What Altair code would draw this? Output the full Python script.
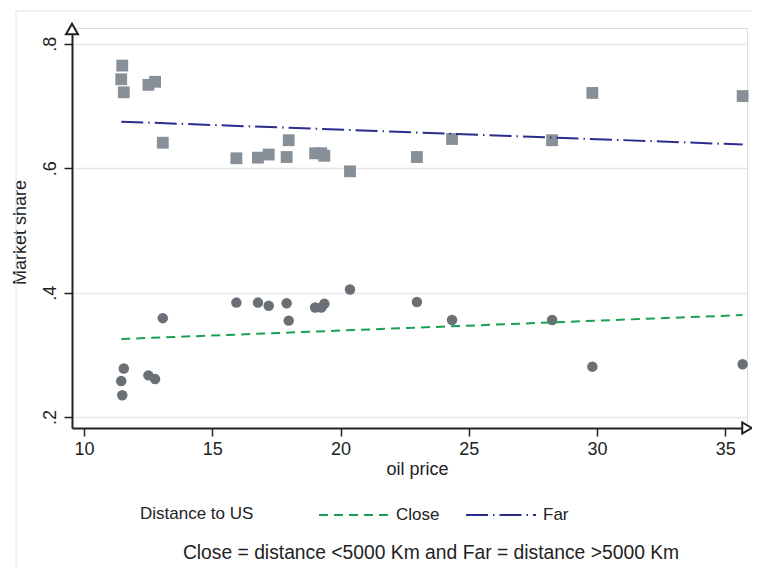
import altair as alt
import pandas as pd

# ---- data ----
oil_price = [11.49, 11.45, 11.55, 12.51, 12.77, 13.07, 15.94, 16.78, 17.20, 17.90,
             17.98, 19.01, 19.25, 19.37, 20.37, 22.98, 24.35, 28.25, 29.82, 35.68]
share_far = [0.765, 0.743, 0.722, 0.734, 0.739, 0.641, 0.616, 0.617, 0.622, 0.618,
             0.645, 0.624, 0.624, 0.620, 0.595, 0.618, 0.647, 0.645, 0.721, 0.716]
share_close = [0.235, 0.258, 0.278, 0.267, 0.261, 0.359, 0.384, 0.384, 0.379, 0.383,
               0.355, 0.376, 0.376, 0.382, 0.405, 0.385, 0.356, 0.356, 0.281, 0.285]
groups = ["Close", "Far"]
x_ticks = [10, 15, 20, 25, 30, 35]
y_ticks = [0.2, 0.4, 0.6, 0.8]
legend_title = "Distance to US"
caption_text = "Close = distance <5000 Km and Far = distance >5000 Km"

FONT = "Liberation Sans"
INK = "#222222"

close_df = pd.DataFrame({"price": oil_price, "share": share_close, "group": "Close"})
far_df = pd.DataFrame({"price": oil_price, "share": share_far, "group": "Far"})
all_df = pd.concat([close_df, far_df], ignore_index=True)
one = pd.DataFrame({"k": [0]})

xscale = alt.Scale(domain=[9.53, 35.85], nice=False, zero=False)
yscale = alt.Scale(domain=[0.1824, 0.8254], nice=False, zero=False)

x_enc = alt.X("price:Q", scale=xscale, axis=alt.Axis(
    title="oil price", values=x_ticks, grid=False, zindex=0,
    domainColor=INK, domainWidth=2, tickColor=INK, tickWidth=1.5, tickSize=8,
    labelFontSize=18, labelFont=FONT, labelColor=INK, labelPadding=4,
    titleFontSize=18, titleFont=FONT, titleColor=INK, titleFontWeight="normal",
    titleX=345, titleY=46, titleBaseline="alphabetic", titleAlign="center"))
y_enc = alt.Y("share:Q", scale=yscale, axis=alt.Axis(
    title="Market share", values=y_ticks, grid=True, gridColor="#e6e6ee", gridWidth=1.5,
    zindex=0, domainColor=INK, domainWidth=2, tickColor=INK, tickWidth=1.5, tickSize=8,
    labelExpr="substring(format(datum.value, '.1f'), 1)",
    labelAngle=-90, labelAlign="center", labelBaseline="bottom", labelPadding=5,
    labelFontSize=18, labelFont=FONT, labelColor=INK,
    titleFontSize=18, titleFont=FONT, titleColor=INK, titleFontWeight="normal",
    titleX=-47, titleY=204, titleBaseline="alphabetic", titleAlign="center", titleAngle=-90))

frame = alt.Chart(one).mark_rect(fillOpacity=0, stroke="#e4e4e4", strokeWidth=1).encode(
    x=alt.value(-56), x2=alt.value(900), y=alt.value(-17), y2=alt.value(900))

pts_far = alt.Chart(far_df).mark_point(shape="square", filled=True, size=140,
                                       color="#878f98", opacity=1).encode(x=x_enc, y=y_enc)
pts_close = alt.Chart(close_df).mark_point(shape="circle", filled=True, size=110,
                                           color="#6a7075", opacity=1).encode(x="price:Q", y="share:Q")

leg = alt.Legend(title=None, orient="none", legendX=246, legendY=451,
                 direction="horizontal",
                 labelFontSize=17, labelFont=FONT, labelColor=INK, labelOffset=6,
                 symbolType="stroke", symbolSize=4900, symbolStrokeWidth=2,
                 columnPadding=22, padding=0)

lines = alt.Chart(all_df).transform_regression(
    "price", "share", groupby=["group"]
).mark_line(strokeWidth=2).encode(
    x="price:Q", y="share:Q",
    color=alt.Color("group:N", scale=alt.Scale(domain=groups, range=["#1aa053", "#2b2d8e"]), legend=leg),
    strokeDash=alt.StrokeDash("group:N", scale=alt.Scale(domain=groups, range=[[9, 6], [22, 5, 1.5, 5]]), legend=leg),
)

leg_title = alt.Chart(one).mark_text(text=legend_title, font=FONT, fontSize=17, color=INK,
                                     align="left", baseline="middle").encode(
    x=alt.value(68), y=alt.value(486))

y_arrow = alt.Chart(one).mark_point(shape="triangle-up", size=144, filled=True, fill="white",
                                     stroke=INK, strokeWidth=2, opacity=1).encode(
    x=alt.value(0), y=alt.value(1))
x_arrow = alt.Chart(one).mark_point(shape="triangle-right", size=121, filled=True, fill="white",
                                     stroke=INK, strokeWidth=2, opacity=1).encode(
    x=alt.value(675), y=alt.value(400))

caption = alt.Chart(one).mark_text(text=caption_text, font=FONT, fontSize=19.3, color=INK,
                                   align="center", baseline="middle").encode(
    x=alt.value(359), y=alt.value(525))

chart = alt.layer(frame, pts_far, pts_close, lines, leg_title, y_arrow, x_arrow, caption).properties(
    width=675, height=400,
    autosize=alt.AutoSizeParams(type="none"),
    padding={"left": 64, "top": 20, "right": 5, "bottom": 140},
).configure_view(stroke=None).configure(font=FONT, background="white")

chart.save("out.html", embed_options={"renderer": "svg", "actions": False})
